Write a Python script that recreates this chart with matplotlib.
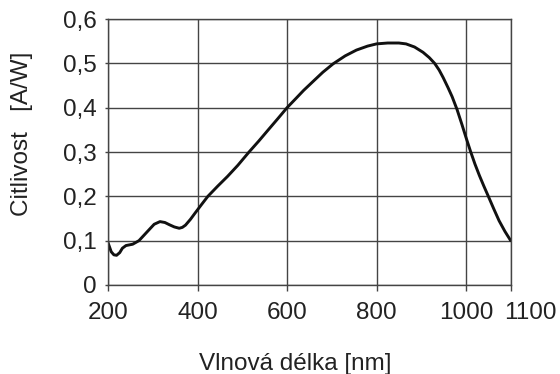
import matplotlib
matplotlib.use('Agg')
import matplotlib.pyplot as plt
import matplotlib.transforms as mtransforms

wavelength = [200, 207, 213, 219, 226, 232, 240, 255, 269, 280, 291, 303, 316, 327, 337, 348,
              359, 366, 373, 384, 395, 410, 423, 445, 467, 490, 515, 537, 558, 580, 600, 620,
              637, 660, 680, 703, 730, 755, 780, 800, 825, 850, 866, 885, 904, 918, 930, 940,
              949, 960, 969, 980, 991, 1000, 1010, 1020, 1030, 1040, 1050, 1062, 1074, 1087, 1100]
sensitivity = [0.095, 0.075, 0.068, 0.067, 0.073, 0.083, 0.089, 0.092, 0.100, 0.112, 0.124, 0.137,
               0.143, 0.141, 0.136, 0.131, 0.128, 0.130, 0.135, 0.148, 0.163, 0.183, 0.200, 0.223,
               0.245, 0.270, 0.300, 0.325, 0.350, 0.376, 0.400, 0.421, 0.439, 0.461, 0.480, 0.499,
               0.517, 0.530, 0.539, 0.544, 0.546, 0.546, 0.544, 0.537, 0.525, 0.513, 0.500, 0.485,
               0.468, 0.445, 0.425, 0.396, 0.362, 0.333, 0.302, 0.273, 0.247, 0.223, 0.200, 0.172,
               0.145, 0.121, 0.100]

x_ticks = [200, 400, 600, 800, 1000, 1100]
x_labels = ['200', '400', '600', '800', '1000', '1100']
y_ticks = [0, 0.1, 0.2, 0.3, 0.4, 0.5, 0.6]
y_labels = ['0', '0,1', '0,2', '0,3', '0,4', '0,5', '0,6']

plt.rcParams['font.family'] = ['Liberation Sans', 'DejaVu Sans']
text_col = '#222222'
grid_col = '#444444'

fig = plt.figure(figsize=(5.6, 3.74), dpi=100)
ax = fig.add_axes([0.193, 0.238, 0.719, 0.711])

ax.plot(wavelength, sensitivity, color='#111111', lw=2.1, solid_capstyle='round')

ax.set_xlim(200, 1100)
ax.set_ylim(0, 0.6)
ax.set_xticks(x_ticks)
ax.set_xticklabels(x_labels)
ax.set_yticks(y_ticks)
ax.set_yticklabels(y_labels)
ax.grid(True, color=grid_col, lw=1.0)
ax.set_axisbelow(True)
for s in ax.spines.values():
    s.set_color(grid_col)
    s.set_linewidth(1.0)

ax.tick_params(axis='x', length=4, width=1.0, color=grid_col, pad=8, labelsize=17.5, labelcolor=text_col)
ax.tick_params(axis='y', length=2, width=1.0, color=grid_col, pad=6, labelsize=17.5, labelcolor=text_col)

# the 1100 label sits off to the right in the original
last = ax.get_xticklabels()[-1]
last.set_transform(last.get_transform() + mtransforms.ScaledTranslation(0.2, 0, fig.dpi_scale_trans))

fig.text(0.528, 0.012, 'Vlnová délka [nm]', ha='center', va='baseline', fontsize=17.5, color=text_col)
fig.text(0.04, 0.643, 'Citlivost   [A/W]', ha='center', va='center', rotation=90,
         fontsize=17.5, color=text_col)

fig.savefig('out.png', dpi=100, facecolor='white')
